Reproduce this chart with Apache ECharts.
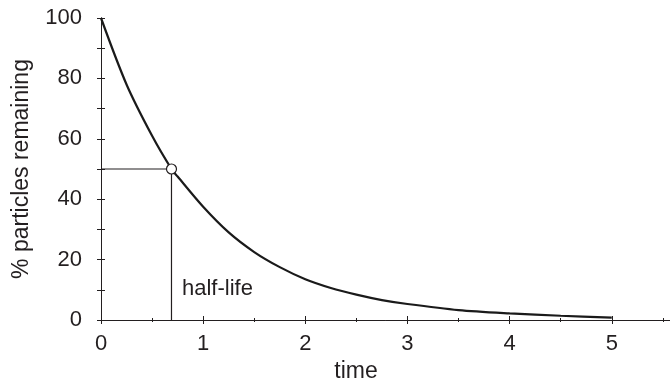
<!DOCTYPE html>
<html>
<head>
<meta charset="utf-8">
<script src="https://cdn.jsdelivr.net/npm/echarts@6/dist/echarts.min.js"></script>
<style>html,body{margin:0;padding:0;background:#fff;}#c{width:670px;height:382px;}</style>
</head>
<body>
<div id="c"></div>
<script>
var timeValues = [0, 0.25, 0.5, 0.69, 0.75, 1, 1.25, 1.5, 1.75, 2, 2.25, 2.5, 2.75, 3, 3.5, 4, 4.5, 5];
var percentRemaining = [100, 78, 61, 50, 47.5, 37.5, 29, 22.5, 17.5, 13.5, 10.6, 8.4, 6.6, 5.3, 3.3, 2.2, 1.4, 0.8];
var halfLifeTime = 0.69;
var halfLifeValue = 50;
var halfLifeText = 'half-life';
var xTickLabels = ['0', '1', '2', '3', '4', '5'];
var yTickLabels = ['0', '20', '40', '60', '80', '100'];
var xName = 'time';
var yName = '% particles remaining';

var curve = timeValues.map(function (t, i) { return [t, percentRemaining[i]]; });
var ink = '#231f20';
var font = '"Liberation Sans", Arial, Helvetica, sans-serif';

var chart = echarts.init(document.getElementById('c'), null, {renderer: 'canvas'});
function xAxisCfg(inside, main) {
  return {
    type: 'value', gridIndex: 0, position: 'bottom', offset: 0,
    min: 0, max: 5.57, interval: 1,
    axisLine: {show: true, lineStyle: {color: ink, width: 1}},
    axisTick: {show: true, inside: inside, length: 4, lineStyle: {color: ink, width: 1}},
    minorTick: {show: true, splitNumber: 2, length: 2, lineStyle: {color: ink, width: 1}},
    splitLine: {show: false},
    axisLabel: {
      show: main, margin: 13, color: ink, fontFamily: font, fontSize: 22, showMaxLabel: false,
      formatter: function (v) { return xTickLabels.indexOf(String(v)) >= 0 ? String(v) : ''; }
    }
  };
}
function yAxisCfg(inside, main) {
  return {
    type: 'value', gridIndex: 0, position: 'left', offset: 0,
    min: 0, max: 100, interval: 10,
    axisLine: {show: true, lineStyle: {color: ink, width: 1}},
    axisTick: {show: true, inside: inside, length: 4, lineStyle: {color: ink, width: 1}},
    splitLine: {show: false},
    name: main ? yName : '', nameLocation: 'middle', nameGap: 68,
    nameTextStyle: {color: ink, fontFamily: font, fontSize: 23},
    axisLabel: {
      show: main, margin: 19, color: ink, fontFamily: font, fontSize: 22,
      formatter: function (v) { return yTickLabels.indexOf(String(v)) >= 0 ? String(v) : ''; }
    }
  };
}
chart.setOption({
  animation: false,
  backgroundColor: '#fff',
  grid: {left: 101, right: 0, top: 18, bottom: 62, containLabel: false, outerBoundsMode: 'none'},
  xAxis: [xAxisCfg(false, true), xAxisCfg(true, false)],
  yAxis: [yAxisCfg(false, true), yAxisCfg(true, false)],
  graphic: [{
    type: 'text', x: 356, y: 372,
    style: {text: xName, fill: ink, font: '23px ' + font, textAlign: 'center', textVerticalAlign: 'middle'}
  }],
  series: [
    {
      type: 'line', xAxisIndex: 0, yAxisIndex: 0,
      data: [[0, halfLifeValue], [halfLifeTime, halfLifeValue], [halfLifeTime, 0]],
      showSymbol: false, lineStyle: {color: ink, width: 1.2}, z: 2
    },
    {
      type: 'line', xAxisIndex: 0, yAxisIndex: 0, data: curve, smooth: 0.3,
      showSymbol: false, lineStyle: {color: '#1a1a1a', width: 2.2}, z: 3
    },
    {
      type: 'scatter', xAxisIndex: 0, yAxisIndex: 0,
      data: [[halfLifeTime, halfLifeValue]], symbol: 'circle', symbolSize: 10,
      itemStyle: {color: '#fff', borderColor: ink, borderWidth: 1.2, opacity: 1}, z: 5
    },
    {
      type: 'scatter', xAxisIndex: 0, yAxisIndex: 0,
      data: [[halfLifeTime, 10.3]], symbolSize: 1,
      itemStyle: {opacity: 0},
      label: {show: true, position: 'right', distance: 10, formatter: halfLifeText,
        color: ink, opacity: 1, fontFamily: font, fontSize: 22}, z: 5
    }
  ]
});
</script>
</body>
</html>
